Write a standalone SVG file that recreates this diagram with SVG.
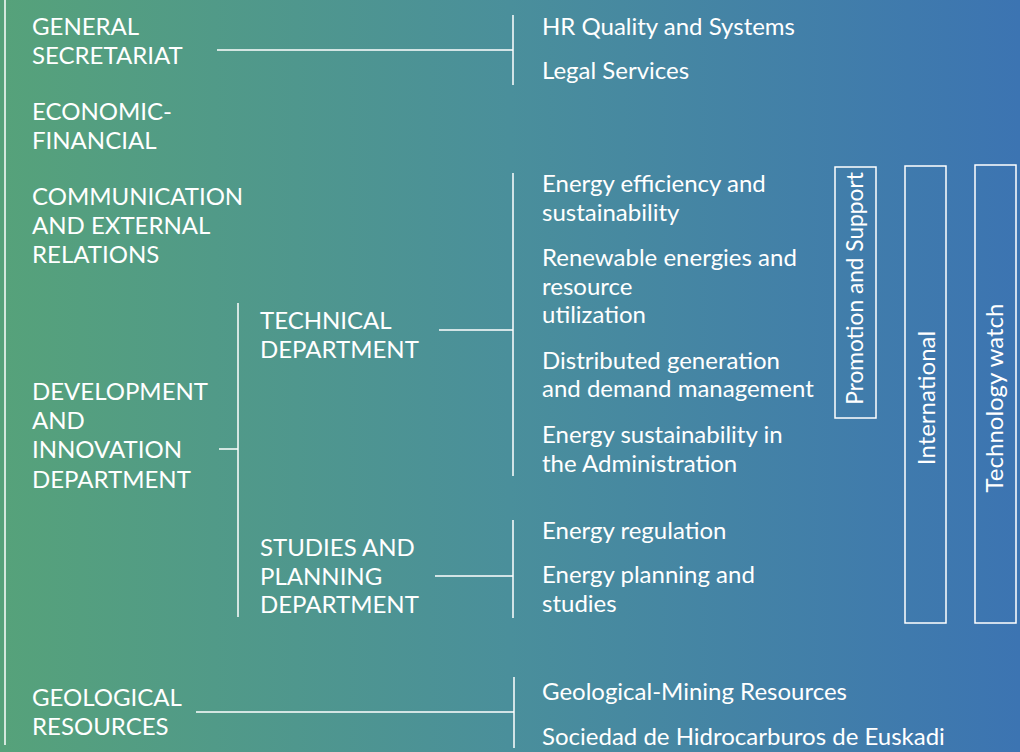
<svg xmlns="http://www.w3.org/2000/svg" width="1020" height="752" viewBox="0 0 1020 752">
<defs>
<linearGradient id="bg" x1="0" y1="0" x2="1" y2="0">
<stop offset="0" stop-color="#56a27a"/>
<stop offset="0.5" stop-color="#4a8f9b"/>
<stop offset="1" stop-color="#3c74b2"/>
</linearGradient>
<style>
text{font-family:Lato,"Open Sans","Liberation Sans",sans-serif;fill:#ffffff;font-size:24px;font-weight:400}
.ln{stroke:#ffffff;stroke-width:1.5;fill:none}
.box{stroke:#ffffff;stroke-width:1.5;fill:none}
</style>
</defs>
<rect x="0" y="0" width="1020" height="752" fill="url(#bg)"/>
<g id="connectors">
<line class="ln" x1="5" y1="0" x2="5" y2="745"/>
<line class="ln" x1="217" y1="50" x2="513" y2="50"/>
<line class="ln" x1="513" y1="15" x2="513" y2="85"/>
<line class="ln" x1="219" y1="449" x2="238" y2="449"/>
<line class="ln" x1="238" y1="303" x2="238" y2="617"/>
<line class="ln" x1="439" y1="330" x2="513" y2="330"/>
<line class="ln" x1="513" y1="173" x2="513" y2="476"/>
<line class="ln" x1="435" y1="576" x2="513" y2="576"/>
<line class="ln" x1="513" y1="520" x2="513" y2="618"/>
<line class="ln" x1="196" y1="712" x2="514" y2="712"/>
<line class="ln" x1="514" y1="677" x2="514" y2="748"/>
</g>
<g id="general-secretariat"><text x="32" y="35">GENERAL</text><text x="32" y="64">SECRETARIAT</text></g>
<g id="economic-financial"><text x="32" y="120">ECONOMIC-</text><text x="32" y="149">FINANCIAL</text></g>
<g id="communication"><text x="32" y="205">COMMUNICATION</text><text x="32" y="234">AND EXTERNAL</text><text x="32" y="263">RELATIONS</text></g>
<g id="development"><text x="32" y="400">DEVELOPMENT</text><text x="32" y="429">AND</text><text x="32" y="458">INNOVATION</text><text x="32" y="488">DEPARTMENT</text></g>
<g id="technical"><text x="260" y="329">TECHNICAL</text><text x="260" y="358">DEPARTMENT</text></g>
<g id="studies"><text x="260" y="556">STUDIES AND</text><text x="260" y="585">PLANNING</text><text x="260" y="613">DEPARTMENT</text></g>
<g id="geological"><text x="32" y="706">GEOLOGICAL</text><text x="32" y="735">RESOURCES</text></g>
<g id="hr"><text x="542" y="35">HR Quality and Systems</text></g>
<g id="legal"><text x="542" y="79">Legal Services</text></g>
<g id="efficiency"><text x="542" y="192">Energy efficiency and</text><text x="542" y="221">sustainability</text></g>
<g id="renewable"><text x="542" y="266">Renewable energies and</text><text x="542" y="295">resource</text><text x="542" y="323">utilization</text></g>
<g id="distributed"><text x="542" y="369">Distributed generation</text><text x="542" y="397">and demand management</text></g>
<g id="admin"><text x="542" y="443">Energy sustainability in</text><text x="542" y="472">the Administration</text></g>
<g id="regulation"><text x="542" y="539">Energy regulation</text></g>
<g id="planning"><text x="542" y="583">Energy planning and</text><text x="542" y="612">studies</text></g>
<g id="mining"><text x="542" y="700">Geological-Mining Resources</text></g>
<g id="shesa"><text x="542" y="745">Sociedad de Hidrocarburos de Euskadi</text></g>
<g id="promotion"><rect class="box" x="835" y="167" width="41" height="251"/><text transform="translate(862.7,288.5) rotate(-90)" text-anchor="middle" style="font-size:22.7px">Promotion and Support</text></g>
<g id="international"><rect class="box" x="905" y="166" width="41" height="457"/><text transform="translate(935,398) rotate(-90)" text-anchor="middle">International</text></g>
<g id="techwatch"><rect class="box" x="975" y="165" width="41" height="458"/><text transform="translate(1002.7,398) rotate(-90)" text-anchor="middle">Technology watch</text></g>
</svg>
